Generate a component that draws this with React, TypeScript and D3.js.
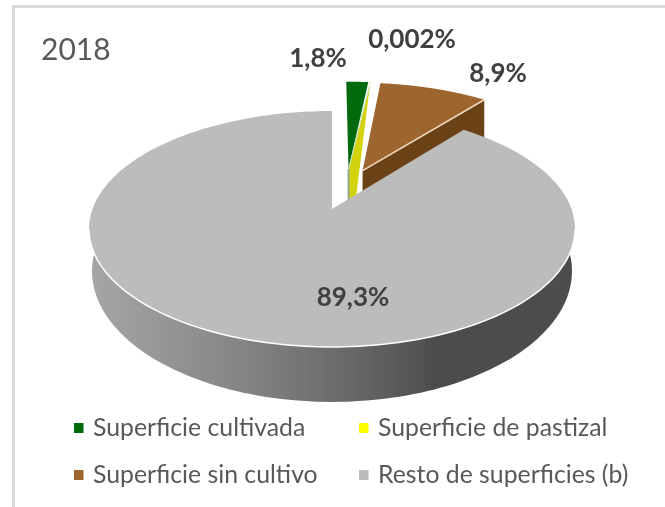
import React from 'react';
import * as d3 from 'd3';

const categories = ['Superficie cultivada', 'Superficie de pastizal', 'Superficie sin cultivo', 'Resto de superficies (b)'];
const values = [1.8, 0.002, 8.9, 89.3];
const valueLabels = ['1,8%', '0,002%', '8,9%', '89,3%'];
const colors = ['#006a10', '#ffff00', '#9c662f', '#bcbcbc'];
const title = '2018';

const W = 665;
const H = 507;

// tilted disc with a bit of perspective, origin is the apex of the big slice
const apex = { x: 332, y: 209 };
const topDisc = { a: 114.6, b: 239.5, y0: apex.y };
const bottomDisc = { a: 127, b: 236.5, y0: 249 };
const persp = 0.1695;
const explode = 0.19;

type P = [number, number];

const project = (u: number, v: number, disc = topDisc): P => {
  const s = 1 + persp * v;
  return [apex.x + (disc.b * u) / s, disc.y0 - (disc.a * v) / s];
};

const toPath = (pts: P[]) => d3.line()(pts) as string;

export default function App() {
  const arcs = d3.pie<number>().sort(null)(values);
  const big = arcs[3];
  const mid = (a: d3.PieArcDatum<number>) => (a.startAngle + a.endAngle) / 2;

  const offset = (a: d3.PieArcDatum<number>): P => [
    explode * (Math.sin(mid(a)) - Math.sin(mid(big))),
    explode * (Math.cos(mid(a)) - Math.cos(mid(big))),
  ];

  const rimPts = (a: d3.PieArcDatum<number>, from = a.startAngle, to = a.endAngle, disc = topDisc) => {
    const [ou, ov] = offset(a);
    return d3.range(0, 121).map((i) => {
      const t = from + ((to - from) * i) / 120;
      return project(ou + Math.sin(t), ov + Math.cos(t), disc);
    });
  };

  const facePts = (a: d3.PieArcDatum<number>) => {
    const [ou, ov] = offset(a);
    return [project(ou, ov), ...rimPts(a)];
  };

  const [green, yellow, brown] = arcs;

  // brown cut face (the one looking at the viewer)
  const brownApex = facePts(brown)[0];
  const brownEnd = rimPts(brown)[120];
  const cutDepth = 40;
  const brownWall: P[] = [
    brownApex,
    brownEnd,
    [brownEnd[0], brownEnd[1] + cutDepth],
    [brownApex[0], brownApex[1] + cutDepth],
  ];

  // yellow slice is only a sliver, what shows is its cut face
  const gApex = facePts(green)[0];
  const yEnd = rimPts(yellow)[0];
  const gApexLow: P = [gApex[0], gApex[1] + cutDepth];
  const yellowWall: P[] = [yEnd, gApex, gApexLow, [gApex[0] + 6, gApex[1] + cutDepth]];

  // front wall of the big slice
  const wallTop = rimPts(big, Math.PI / 2 + 0.17, (Math.PI * 3) / 2 - 0.17);
  const wallBottom = rimPts(big, Math.PI / 2 - 0.03, (Math.PI * 3) / 2 + 0.03, bottomDisc).reverse();

  const markerX = [74, 359];
  const textX = [93, 378];
  const legendY = [428, 475];

  return (
    <svg width={W} height={H} style={{ position: 'absolute', left: 0, top: 0 }}>
      <defs>
        <linearGradient id="wall" gradientUnits="userSpaceOnUse" x1={90} x2={575} y1={0} y2={0}>
          <stop offset="0" stopColor="#a6a6a6" />
          <stop offset="0.3" stopColor="#868686" />
          <stop offset="0.55" stopColor="#666666" />
          <stop offset="0.72" stopColor="#4c4c4c" />
          <stop offset="1" stopColor="#4e4e4e" />
        </linearGradient>
        <filter id="soft" x="0" y="0" width="100%" height="100%" filterUnits="userSpaceOnUse">
          <feGaussianBlur stdDeviation="0.5" />
        </filter>
      </defs>
      <rect width={W} height={H} fill="#ffffff" />
      <path d="M13.5,507V6.5H665" fill="none" stroke="#d9d9d9" strokeWidth={3} />

      <g filter="url(#soft)">
        <path d={toPath(brownWall)} fill="#6b4219" />
        <path d={toPath(yellowWall)} fill="#d2d20f" />
        <path d={toPath([gApex, gApexLow])} stroke="#8fa88f" strokeWidth={2} fill="none" />
        <path d={toPath(facePts(green))} fill={colors[0]} />
        <path d={toPath([yEnd, gApex])} stroke="#cfe3cf" strokeWidth={1} fill="none" />
        <path d={toPath(facePts(brown))} fill={colors[2]} />
        <path d={toPath([brownApex, brownEnd])} stroke="#f3d9bd" strokeWidth={1.5} fill="none" />
        <path d={toPath([...wallTop, ...wallBottom])} fill="url(#wall)" />
        <path d={toPath(facePts(big))} fill={colors[3]} />
        <path d={toPath(wallTop)} stroke="#ffffff" strokeWidth={1.5} fill="none" />

        <text x={41} y={60} fontFamily="Lato" fontSize={30} fill="#595959">{title}</text>

        <g fontFamily="Lato" fontWeight={700} fontSize={26} fill="#404040" textAnchor="middle">
          <text x={318} y={67}>{valueLabels[0]}</text>
          <text x={412} y={48}>{valueLabels[1]}</text>
          <text x={498} y={82}>{valueLabels[2]}</text>
          <text x={353} y={306}>{valueLabels[3]}</text>
        </g>

        <g fontFamily="Lato" fontSize={24.8} fill="#595959">
          {categories.map((c, i) => {
            const ly = legendY[Math.floor(i / 2)];
            return (
              <g key={c}>
                <rect x={markerX[i % 2]} y={ly - 5} width={9.5} height={10} fill={colors[i]} />
                <text x={textX[i % 2]} y={ly + 8}>{c}</text>
              </g>
            );
          })}
        </g>
      </g>
    </svg>
  );
}
